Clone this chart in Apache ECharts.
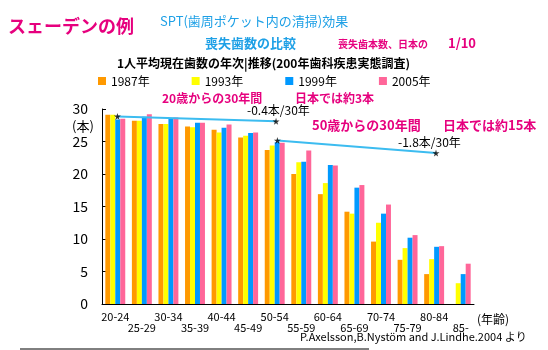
<!DOCTYPE html>
<html>
<head>
<meta charset="utf-8">
<script src="https://cdn.jsdelivr.net/npm/echarts@6/dist/echarts.min.js"></script>
<style>
  html, body { margin: 0; padding: 0; background: #fff; }
  #chart { width: 548px; height: 350px; }
</style>
</head>
<body>
<div id="chart"></div>
<script>
  const ages = ['20-24', '25-29', '30-34', '35-39', '40-44', '45-49', '50-54',
    '55-59', '60-64', '65-69', '70-74', '75-79', '80-84', '85-']
  const y1987 = [29.1, 28.2, 27.7, 27.3, 26.8, 25.6, 23.7, 20.0, 16.9, 14.2, 9.6, 6.8, 4.6, null]
  const y1993 = [29.1, 28.2, 27.7, 27.2, 26.4, 25.9, 24.4, 21.8, 18.6, 13.9, 12.5, 8.6, 6.9, 3.2]
  const y1999 = [28.4, 28.8, 28.5, 27.9, 27.1, 26.3, 24.9, 21.9, 21.4, 17.9, 13.9, 10.2, 8.8, 4.6]
  const y2005 = [28.5, 29.2, 28.7, 27.9, 27.6, 26.4, 24.8, 23.6, 21.3, 18.3, 15.3, 10.6, 8.9, 6.2]
  const yearNames = ['1987年', '1993年', '1999年', '2005年']
  const yearColors = ['#ff9900', '#ffff00', '#0099ff', '#ff6699']

  // trend lines (x in category units, y in teeth)
  const trend20 = [[0.58, 28.86], [6.55, 28.1]]
  const trend50 = [[6.6, 25.16], [12.57, 23.22]]

  const jp = "'Noto Sans CJK JP', sans-serif"
  const magenta = '#e6007e'
  const titleBlue = '#1ea0e6'
  const star = 'path://M50,0 L61,35 L98,35 L68,57 L79,91 L50,70 L21,91 L32,57 L2,35 L39,35 Z'

  const txt = (x, y, text, size, color, weight) => ({
    type: 'text', left: x, top: y,
    style: { text: text, fontSize: size, fill: color, fontWeight: weight || 'normal', fontFamily: jp }
  })

  const chart = echarts.init(document.getElementById('chart'))
  const bars = [y1987, y1993, y1999, y2005].map((d, i) => ({
    name: yearNames[i],
    type: 'bar',
    data: d,
    barGap: '0%',
    barCategoryGap: '25%',
    itemStyle: { color: yearColors[i] }
  }))

  chart.setOption({
    animation: false,
    textStyle: { fontFamily: jp },
    legend: {
      data: yearNames,
      left: 93,
      top: 70,
      icon: 'rect',
      itemWidth: 8,
      itemHeight: 8,
      itemGap: 42,
      textStyle: { fontSize: 12, color: '#000', fontFamily: jp }
    },
    grid: { left: 102, right: 74, top: 109, bottom: 46 },
    xAxis: [
      {
        type: 'category',
        data: ages,
        axisLine: { lineStyle: { color: '#000', width: 1 } },
        axisTick: { inside: true, length: 4, lineStyle: { color: '#000' } },
        axisLabel: {
          interval: 0,
          margin: 7,
          fontSize: 11,
          lineHeight: 11,
          color: '#000',
          formatter: (v, i) => (i % 2 ? '\n' + v : v)
        }
      },
      { type: 'value', min: 0, max: 14, show: false }
    ],
    yAxis: {
      type: 'value',
      min: 0,
      max: 30,
      interval: 5,
      splitLine: { show: false },
      axisLine: { show: true, lineStyle: { color: '#000', width: 1 } },
      axisTick: { show: true, inside: true, length: 4, lineStyle: { color: '#000' } },
      axisLabel: { fontSize: 14, color: '#000', margin: 14 }
    },
    series: bars.concat([
      {
        type: 'line', xAxisIndex: 1, data: trend20, symbol: 'none',
        lineStyle: { color: '#3cbcf0', width: 2 }, z: 5
      },
      {
        type: 'line', xAxisIndex: 1, data: trend50, symbol: 'none',
        lineStyle: { color: '#3cbcf0', width: 2 }, z: 5
      },
      {
        type: 'scatter', xAxisIndex: 1, data: trend20.concat(trend50),
        symbol: star, symbolSize: 7, itemStyle: { color: '#000' }, z: 6
      }
    ]),
    graphic: [
      txt(8, 17, 'スェーデンの例', 18, magenta, 'bold'),
      txt(160, 15, 'SPT(歯周ポケット内の清掃)効果', 13, titleBlue),
      txt(205, 37, '喪失歯数の比較', 13, titleBlue, 'bold'),
      txt(338, 39, '喪失歯本数、日本の', 10, magenta, 'bold'),
      txt(448, 37, '1/10', 13, magenta, 'bold'),
      txt(117, 57, '1人平均現在歯数の年次|推移(200年歯科疾患実態調査)', 12, '#000', 'bold'),
      txt(72, 120, '(本)', 13, '#000'),
      txt(162, 92, '20歳からの30年間', 12, magenta, 'bold'),
      txt(247, 104, '-0.4本/30年', 12, '#000'),
      txt(295, 92, '日本では約3本', 12, magenta, 'bold'),
      txt(312, 119, '50歳からの30年間', 13, magenta, 'bold'),
      txt(443, 119, '日本では約15本', 13, magenta, 'bold'),
      txt(398, 136, '-1.8本/30年', 12, '#000'),
      txt(477, 313, '(年齢)', 12, '#000'),
      txt(300, 331, 'P.Axelsson,B.Nystöm and J.Lindhe.2004 より', 11, '#000'),
      {
        type: 'line',
        shape: { x1: 20, y1: 349, x2: 369, y2: 349 },
        style: { stroke: '#000', lineWidth: 1 }
      }
    ]
  })
</script>
</body>
</html>
